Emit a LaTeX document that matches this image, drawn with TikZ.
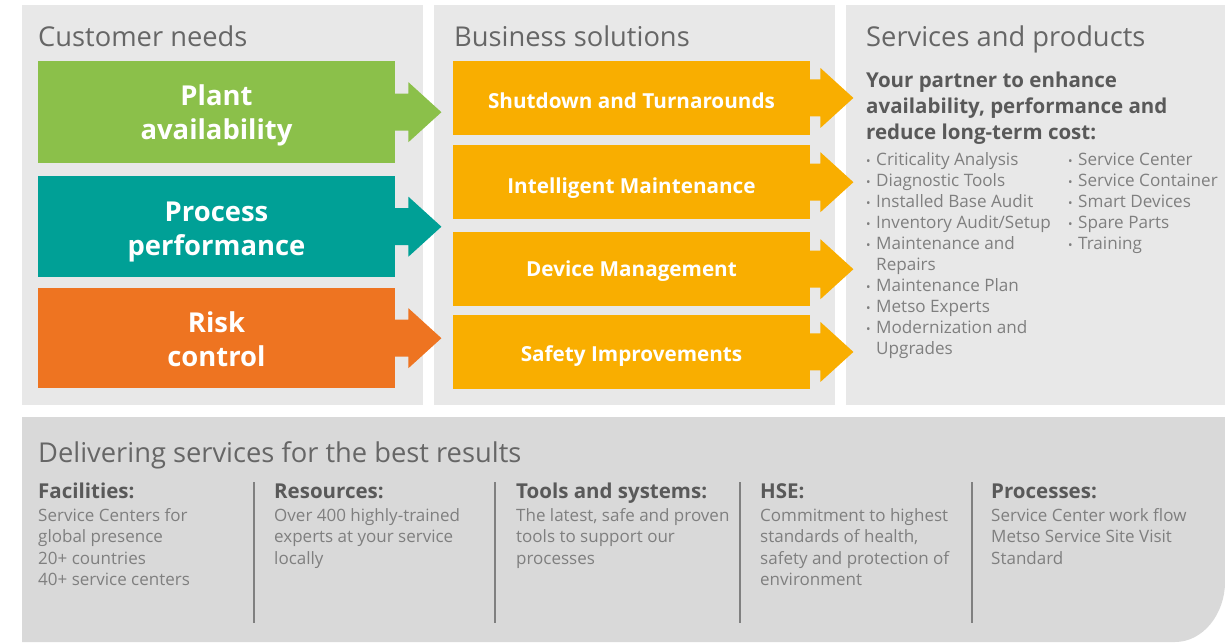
\documentclass[tikz,border=0pt]{standalone}
\usepackage{fontspec}
\setmainfont{Open Sans}
\usetikzlibrary{calc}
\definecolor{panel}{HTML}{E8E8E8}
\definecolor{bottompanel}{HTML}{D9D9D9}
\definecolor{cgreen}{HTML}{8BC04A}
\definecolor{cteal}{HTML}{00A096}
\definecolor{corange}{HTML}{EE7421}
\definecolor{cyellow}{HTML}{F9AE00}
\definecolor{ttitle}{HTML}{666666}
\definecolor{tbold}{HTML}{595959}
\definecolor{tbody}{HTML}{7F7F7F}
\definecolor{divider}{HTML}{808080}
\newcommand\fs[2]{\fontsize{#1}{#2}\selectfont}
\newcommand\bul{\makebox[10pt][l]{\fs{12}{12}•}}
\newcommand\barrow[3]{%
  \fill[#2] ($(#1.east)+(-0.5,-18.5)$) -- ++(#3+0.5,0) -- ++(0,-11.5) -- ++(33,30) -- ++(-33,30) -- ++(0,-11.5) -- ++(-#3-0.5,0) -- cycle;}
\tikzset{
  title/.style={anchor=base west, inner sep=0, text=ttitle, font=\fs{27.3}{30}},
  bartext/.style={anchor=base, inner sep=0, text=white, font=\bfseries\fs{27.4}{30}},
  midtext/.style={anchor=base, inner sep=0, text=white, font=\bfseries\fs{20.7}{24}},
  subt/.style={anchor=base west, inner sep=0, text=tbold, font=\bfseries\fs{20.5}{22}},
  item/.style={anchor=base west, inner sep=0, text=tbody, font=\fs{17.1}{18}},
  head/.style={anchor=base west, inner sep=0, text=tbold, font=\bfseries\fs{20.5}{22}},
  body/.style={anchor=base west, inner sep=0, text=tbody, font=\fs{17}{18}},
  bigbar/.style={fill=#1, draw=none, inner sep=0, anchor=north west, minimum width=357pt},
  divline/.style={draw=divider, line width=2pt},
}
\begin{document}
\begin{tikzpicture}[x=1pt,y=-1pt]
\useasboundingbox (0,0) rectangle (1225,642);
% panels
\fill[panel] (22,5) rectangle (423,405);
\fill[panel] (434,5) rectangle (835,405);
\fill[panel] (846,5) rectangle (1225,405);
\fill[bottompanel] (22,417) -- (1225,417) -- (1225,582) .. controls (1225,614) and (1203,642) .. (1175,642) -- (22,642) -- cycle;
% titles
\node[title] (t1) at (38,47) {Customer needs};
\node[title] (t2) at (454,47) {Business solutions};
\node[title] (t3) at (866,47) {Services and products};
% left bars
\node[bigbar=cgreen, minimum height=102pt] (g) at (38,61) {};
\node[bigbar=cteal, minimum height=101pt] (tl) at (38,176) {};
\node[bigbar=corange, minimum height=100pt] (o) at (38,288) {};
\barrow{g}{cgreen}{13}
\barrow{tl}{cteal}{13}
\barrow{o}{corange}{13}
\node[bartext] (g1) at (216.5,105) {Plant};
\node[bartext] (g2) at (216.5,139) {availability};
\node[bartext] (tl1) at (216.5,221) {Process};
\node[bartext] (tl2) at (216.5,255) {performance};
\node[bartext] (o1) at (216.5,332) {Risk};
\node[bartext] (o2) at (216.5,366) {control};
% middle bars
\node[bigbar=cyellow, minimum height=73.5pt] (m1) at (453,61) {};
\node[bigbar=cyellow, minimum height=74pt] (m2) at (453,145) {};
\node[bigbar=cyellow, minimum height=74pt] (m3) at (453,232) {};
\node[bigbar=cyellow, minimum height=73.5pt] (m4) at (453,315) {};
\barrow{m1}{cyellow}{10}
\barrow{m2}{cyellow}{10}
\barrow{m3}{cyellow}{10}
\barrow{m4}{cyellow}{10}
\node[midtext] (m1t) at (631.5,108) {Shutdown and Turnarounds};
\node[midtext] (m2t) at (631.5,193) {Intelligent Maintenance};
\node[midtext] (m3t) at (631.5,276) {Device Management};
\node[midtext] (m4t) at (631.5,361) {Safety Improvements};
% right panel
\node[subt] (s1) at (866,87) {Your partner to enhance};
\node[subt] (s2) at (866,113) {availability, performance and};
\node[subt] (s3) at (866,139) {reduce long-term cost:};
\foreach \t [count=\i from 0] in {\bul Criticality Analysis,\bul Diagnostic Tools,\bul Installed Base Audit,\bul Inventory Audit/Setup,\bul Maintenance and,\hspace{10pt}Repairs,\bul Maintenance Plan,\bul Metso Experts,\bul Modernization and,\hspace{10pt}Upgrades}
  \node[item] (la\i) at (866,165+21.1*\i) {\t};
\foreach \t [count=\i from 0] in {Service Center,Service Container,Smart Devices,Spare Parts,Training}
  \node[item] (ra\i) at (1068,165+21.1*\i) {\bul\t};
% bottom
\node[title] (t4) at (38,462) {Delivering services for the best results};
\node[head] (h1) at (38,498) {Facilities:};
\node[head] (h2) at (274,498) {Resources:};
\node[head] (h3) at (516,498) {Tools and systems:};
\node[head] (h4) at (760,498) {HSE:};
\node[head] (h5) at (991,498) {Processes:};
\foreach \x/\lines [count=\c] in {38/{Service Centers for,global presence,20+ countries,40+ service centers},274/{Over 400 highly-trained,experts at your service,locally},516/{The latest{,} safe and proven,tools to support our,processes},760/{Commitment to highest,standards of health{,},safety and protection of,environment},991/{Service Center work flow,Metso Service Site Visit,Standard}}
  \foreach \l [count=\i from 0] in \lines
    \node[body] (b\c-\i) at (\x,521+21.5*\i) {\l};
\coordinate (d1a) at (254,482); \coordinate (d1b) at (254,623);
\coordinate (d2a) at (495,482); \coordinate (d2b) at (495,623);
\coordinate (d3a) at (740,482); \coordinate (d3b) at (740,623);
\coordinate (d4a) at (972,482); \coordinate (d4b) at (972,623);
\draw[divline] (d1a) -- (d1b);
\draw[divline] (d2a) -- (d2b);
\draw[divline] (d3a) -- (d3b);
\draw[divline] (d4a) -- (d4b);
\end{tikzpicture}
\end{document}
